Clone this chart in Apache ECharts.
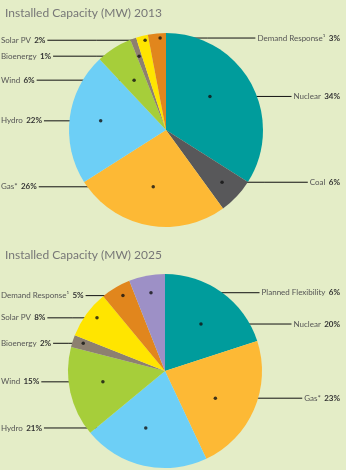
<!DOCTYPE html>
<html lang="en" style="height: 100%">
<head>
   <meta charset="utf-8">
   <style>
      html,
      body {
         margin: 0;
         padding: 0;
         width: 100%;
         height: 100%;
         overflow: hidden;
         background: #e4edc7;
      }
   </style>
</head>
<body>
   <div id="container" style="height: 470px;width: 346px;"></div>

   <script type="text/javascript" src="https://cdn.jsdelivr.net/npm/echarts@6/dist/echarts.min.js"></script>
   <script type="text/javascript">

      // 2013 share of installed capacity (%)
      const cats2013 = ['Nuclear', 'Coal', 'Gas*', 'Hydro', 'Wind', 'Bioenergy', 'Solar PV', 'Demand Response¹'];
      const share2013 = [34, 6, 26, 22, 6, 1, 2, 3];

      // 2025 share of installed capacity (%)
      const cats2025 = ['Nuclear', 'Gas*', 'Hydro', 'Wind', 'Bioenergy', 'Solar PV', 'Demand Response¹', 'Planned Flexibility'];
      const share2025 = [20, 23, 21, 15, 2, 8, 5, 6];

      const colors = {
         'Nuclear': '#009c9c',
         'Coal': '#58585a',
         'Gas*': '#fdb935',
         'Hydro': '#6dcff6',
         'Wind': '#a6ce3a',
         'Bioenergy': '#8d8070',
         'Solar PV': '#ffe500',
         'Demand Response¹': '#e1861d',
         'Planned Flexibility': '#9d90c6'
      };

      const R = 97;
      // where the leader-line dot sits in each slice: fraction along the slice angle, fraction of radius
      const pies = [
         { cats: cats2013, vals: share2013, center: [166, 130],
           along: [0.43, 0.49, 0.52, 0.51, 0.49, 0.44, 0.68, 0.66],
           depth: [0.57, 0.79, 0.60, 0.68, 0.61, 0.81, 0.95, 0.95] },
         { cats: cats2025, vals: share2025, center: [165, 371],
           along: [0.52, 0.56, 0.58, 0.55, 0.6, 0.57, 0.58, 0.53],
           depth: [0.61, 0.59, 0.62, 0.65, 0.89, 0.89, 0.89, 0.82] }
      ];

      function dotAngle(pie, i) {
         let total = pie.vals.reduce((a, b) => a + b, 0);
         let cum = 0;
         for (let k = 0; k < i; k++) cum += pie.vals[k];
         return (cum + pie.along[i] * pie.vals[i]) / total * 360;
      }

      function dotPx(pie, i) {
         let a = dotAngle(pie, i) * Math.PI / 180;
         let r = pie.depth[i] * R;
         return [pie.center[0] + r * Math.sin(a), pie.center[1] - r * Math.cos(a)];
      }

      const font = 'Lato, "Noto Sans", sans-serif';

      let series = [];
      pies.forEach((pie, pi) => {
         let n = pie.vals.length;
         series.push({
            type: 'pie',
            center: pie.center,
            radius: R,
            startAngle: 90,
            clockwise: true,
            avoidLabelOverlap: false,
            silent: true,
            emphasis: { disabled: true },
            data: pie.cats.map((c, i) => ({
               name: c, value: pie.vals[i],
               itemStyle: { color: colors[c] }
            })),
            label: {
               show: true,
               position: 'outside',
               formatter: (p) => '{n|' + p.name + '} {b|' + p.value + '%}',
               rich: {
                  n: { fontFamily: font, fontSize: 8, color: '#555' },
                  b: { fontFamily: font, fontSize: 8, fontWeight: 'bold', color: '#333' }
               }
            },
            labelLine: {
               show: true,
               lineStyle: { color: '#111', width: 1 }
            },
            labelLayout: function (p) {
               let i = p.dataIndex;
               let d = dotPx(pie, i);
               let right = dotAngle(pie, i) < 180 || i === n - 1;
               let w = p.labelRect.width;
               if (right) {
                  let end = 340 - w - 2;
                  return {
                     x: 340, y: d[1], align: 'right', verticalAlign: 'middle',
                     labelLinePoints: [[d[0], d[1]], [(d[0] + end) / 2, d[1]], [end, d[1]]]
                  };
               }
               let start = 1 + w + 2;
               return {
                  x: 1, y: d[1], align: 'left', verticalAlign: 'middle',
                  labelLinePoints: [[d[0], d[1]], [(d[0] + start) / 2, d[1]], [start, d[1]]]
               };
            }
         });
         // dots at the inner end of each leader line
         series.push({
            type: 'scatter',
            coordinateSystem: 'polar',
            polarIndex: pi,
            symbolSize: 3.5,
            silent: true,
            itemStyle: { color: '#111' },
            z: 5,
            data: pie.vals.map((v, i) => [pie.depth[i], dotAngle(pie, i)])
         });
      });

      var dom = document.getElementById('container');
      var myChart = echarts.init(dom, null, { renderer: 'canvas' });

      var option = {
         backgroundColor: '#e4edc7',
         animation: false,
         title: [
            {
               text: 'Installed Capacity (MW) 2013', left: 0, top: 2,
               textStyle: { fontFamily: font, fontSize: 12, fontWeight: 'normal', color: '#777' }
            },
            {
               text: 'Installed Capacity (MW) 2025', left: 0, top: 244,
               textStyle: { fontFamily: font, fontSize: 12, fontWeight: 'normal', color: '#777' }
            }
         ],
         polar: pies.map(p => ({ center: p.center, radius: R })),
         angleAxis: pies.map((p, i) => ({
            polarIndex: i, type: 'value', min: 0, max: 360, startAngle: 90, clockwise: true, show: false
         })),
         radiusAxis: pies.map((p, i) => ({
            polarIndex: i, type: 'value', min: 0, max: 1, show: false
         })),
         series: series
      };

      myChart.setOption(option);
      window.addEventListener('resize', myChart.resize);

   </script>
</body>
</html>
